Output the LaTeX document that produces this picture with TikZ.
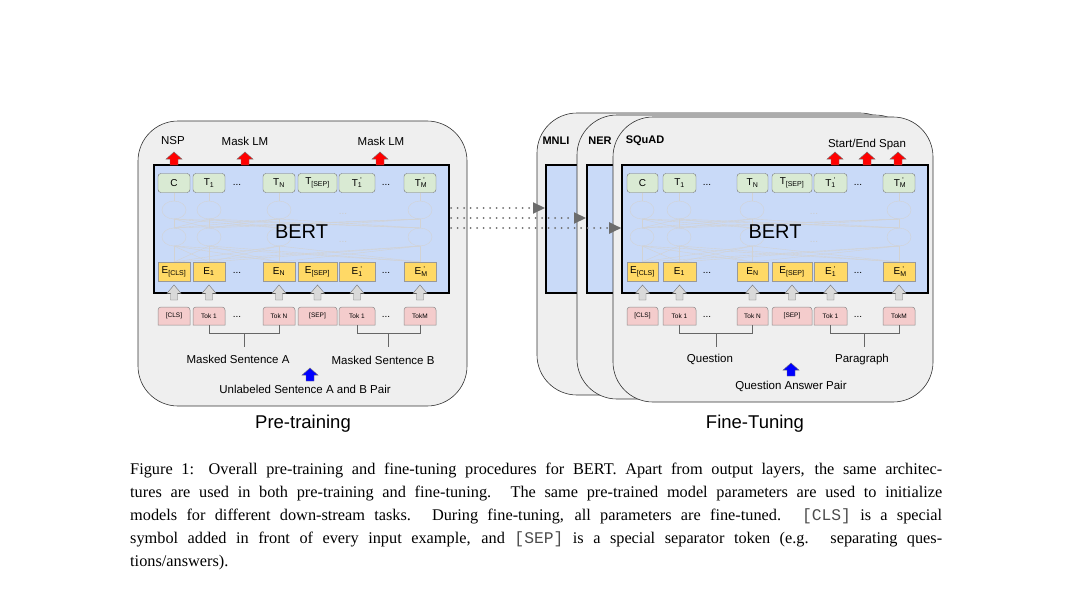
\documentclass[tikz,border=0pt]{standalone}
\usepackage{fontspec}
\setmainfont{Liberation Serif}
\setmonofont{Liberation Mono}
\newfontfamily\arialf{Liberation Sans}
\usetikzlibrary{arrows.meta,calc}
\definecolor{bertblue}{HTML}{C9DAF8}
\definecolor{tgreen}{HTML}{D9EAD3}
\definecolor{eyellow}{HTML}{FFD966}
\definecolor{tpink}{HTML}{F4CCCC}
\definecolor{panelfill}{HTML}{EFEFEF}
\definecolor{arrgray}{HTML}{D9D9D9}
\newcommand\pr[2]{#1\rlap{\textsubscript{#2}}\textsuperscript{\,\,'}}
\newcommand\blockarr[5]{% x ybottom height halfhead color
 \filldraw[fill=#5,draw=black!55,line width=.4pt] ({#1-#4/2},#2) -- ({#1-#4/2},{#2-#3*0.45}) -- ({#1-#4},{#2-#3*0.45}) -- ({#1},{#2-#3}) -- ({#1+#4},{#2-#3*0.45}) -- ({#1+#4/2},{#2-#3*0.45}) -- ({#1+#4/2},#2) -- cycle;}
\tikzset{
 panel/.style={draw=black!80,fill=panelfill,line width=.6pt,rounded corners=40pt},
 bertbox/.style={draw=black,fill=bertblue,line width=1.6pt,minimum height=128pt,inner sep=0},
 net/.style={draw=gray!35,line width=.4pt},
 tbox/.style={draw=black!55,fill=tgreen,rounded corners=3pt,minimum height=19pt,inner sep=0,font=\arialf\fontsize{10}{10}\selectfont},
 ebox/.style={draw=black!40,fill=eyellow,minimum height=19pt,inner sep=0,font=\arialf\fontsize{10}{10}\selectfont},
 tokst/.style={draw=black!45,fill=tpink,line width=.5pt},
 tokt/.style={minimum height=18pt,inner sep=0,font=\arialf\fontsize{6.5}{7}\selectfont},
 dotst/.style={font=\arialf\fontsize{10}{10}\selectfont},
 lbl/.style={font=\arialf\fontsize{11.5}{12}\selectfont,inner sep=0},
 brk/.style={draw=black!60,line width=.6pt},
 dotarr/.style={draw=gray!85!black,line width=2pt,line cap=round,dash pattern=on 0pt off 6.5pt,-{Triangle[length=12pt,width=11pt]}},
}
\newcommand\model[7]{%
 \node[bertbox,minimum width={(#3-#2)*1pt}] (#1bert) at ({(#2+#3)/2},229) {};
 \foreach \c in {#6} {
  \draw[net] (\c,210) ellipse [x radius=12,y radius=9];
  \draw[net] (\c,237) ellipse [x radius=12,y radius=9];
  \draw[net] (\c,193) -- (\c,201);
  \foreach \b in {#6} {\draw[net] (\c,219) -- (\b,228); \draw[net] (\c,262) -- (\b,246);}
 }
 \node[font=\arialf\fontsize{20}{20}\selectfont,inner sep=0] (#1label) at ({(#2+#3)/2},232) {BERT};
 \node[dotst,text=gray!40] (#1nd1) at (#7,214) {...};
 \node[dotst,text=gray!40] (#1nd2) at (#7,242) {...};
 \foreach \xa/\xb/\T/\E/\K/\i in {#4} {
  \node[tbox,minimum width={(\xb-\xa)*1pt}] (#1T\i) at ({(\xa+\xb)/2},183) {\T};
  \node[ebox,minimum width={(\xb-\xa)*1pt}] (#1E\i) at ({(\xa+\xb)/2},271.5) {\E};
  \draw[tokst] (\xa,325) [rounded corners=3pt] -- (\xa,307) -- (\xb,307) [sharp corners] -- (\xb,325) -- cycle;
  \node[tokt,minimum width={(\xb-\xa)*1pt}] (#1K\i) at ({(\xa+\xb)/2},316) {\K};
  \blockarr{(\xa+\xb)/2}{300}{15}{7}{arrgray}
 }
 \foreach \d [count=\n] in {#5} {
  \node[dotst] (#1dt\n) at (\d,185) {...};
  \node[dotst] (#1de\n) at (\d,273) {...};
  \node[dotst] (#1dk\n) at (\d,317) {...};
 }
 \draw[brk] (#1K2.south) -- ++(0,8) -| (#1K3.south);
 \draw[brk] (#1K5.south) -- ++(0,8) -| (#1K6.south);
 \coordinate (#1ma) at ($(#1K2.south)!0.5!(#1K3.south)+(0,8)$);
 \coordinate (#1mb) at ($(#1K5.south)!0.5!(#1K6.south)+(0,8)$);
 \draw[brk] (#1ma) -- ++(0,14);
 \draw[brk] (#1mb) -- ++(0,14);
}
\begin{document}
\begin{tikzpicture}[x=1pt,y=-1pt]
\useasboundingbox (0,0) rectangle (1075,591);
\fill[white] (0,0) rectangle (1075,591);
% left panel
\draw[panel] (138,121) rectangle (467,406);
\model{L}{154}{449}{158/190/{C}/{E\textsubscript{[CLS]}}/{[CLS]}/1, 193/225/{T\textsubscript{1}}/{E\textsubscript{1}}/{Tok 1}/2, 263/295/{T\textsubscript{N}}/{E\textsubscript{N}}/{Tok N}/3, 298/337/{T\textsubscript{[SEP]}}/{E\textsubscript{[SEP]}}/{[SEP]}/4, 339/375/{\pr{T}{1}}/{\pr{E}{1}}/{Tok 1}/5, 404/436/{\pr{T}{M}}/{\pr{E}{M}}/{TokM}/6}{237,386}{174,209,279,420}{343}
\node[lbl] (nsp) at (173,141) {NSP};
\node[lbl] (mlm1) at (245,141) {Mask LM};
\node[lbl] (mlm2) at (381,141) {Mask LM};
\blockarr{174}{165}{13}{8}{red}
\blockarr{245}{165}{13}{8}{red}
\blockarr{380}{165}{13}{8}{red}
\node[lbl] (msa) at (238,359) {Masked Sentence A};
\node[lbl] (msb) at (383,360) {Masked Sentence B};
\blockarr{310}{381}{13}{8}{blue}
\node[lbl] (uns) at (305,389) {Unlabeled Sentence A and B Pair};
\node[font=\arialf\fontsize{18.5}{19}\selectfont,inner sep=0] (pre) at (303,424) {Pre-training};
% right panels
\draw[panel] (537,113) rectangle (900,395);
\node[bertbox,minimum width=80pt,anchor=west] (mnlibox) at (545,229) {};
\node[font=\arialf\bfseries\fontsize{11}{11}\selectfont,inner sep=0] (mnli) at (556,141) {MNLI};
\draw[panel] (577,115) rectangle (915,399);
\node[bertbox,minimum width=80pt,anchor=west] (nerbox) at (586,229) {};
\node[font=\arialf\bfseries\fontsize{11}{11}\selectfont,inner sep=0] (ner) at (600,141) {NER};
\draw[panel] (613,117) rectangle (933,402);
\node[font=\arialf\bfseries\fontsize{11}{11}\selectfont,inner sep=0] (squad) at (645,141) {SQuAD};
\model{R}{622}{928}{627/658/{C}/{E\textsubscript{[CLS]}}/{[CLS]}/1, 663/696/{T\textsubscript{1}}/{E\textsubscript{1}}/{Tok 1}/2, 737/768/{T\textsubscript{N}}/{E\textsubscript{N}}/{Tok N}/3, 772/812/{T\textsubscript{[SEP]}}/{E\textsubscript{[SEP]}}/{[SEP]}/4, 814/847/{\pr{T}{1}}/{\pr{E}{1}}/{Tok 1}/5, 883/915/{\pr{T}{M}}/{\pr{E}{M}}/{TokM}/6}{707,858}{642,679,752,899}{814}
\node[lbl] (span) at (867,145) {Start/End Span};
\blockarr{835}{165}{13}{8}{red}
\blockarr{867}{165}{13}{8}{red}
\blockarr{898}{165}{13}{8}{red}
\node[lbl] (q) at (710,359) {Question};
\node[lbl] (para) at (862,360) {Paragraph};
\blockarr{791}{376}{13}{8}{blue}
\node[lbl] (qap) at (791,386) {Question Answer Pair};
\node[font=\arialf\fontsize{18.5}{19}\selectfont,inner sep=0] (ft) at (755,424) {Fine-Tuning};
% dotted arrows
\coordinate (s1) at (451,208);
\coordinate (s2) at (451,218);
\coordinate (s3) at (451,228);
\draw[dotarr] (s1) -- (s1 -| mnlibox.west);
\draw[dotarr] (s2) -- (s2 -| nerbox.west);
\draw[dotarr] (s3) -- (s3 -| Rbert.west);
% caption
\node[anchor=north west,text width=812pt,align=justify,inner sep=0,font=\fontsize{16.3}{23}\selectfont] (cap) at (130,463) {Figure 1: Overall pre-training and fine-tuning procedures for BERT. Apart from output layers, the same architec-\linebreak tures are used in both pre-training and fine-tuning. The same pre-trained model parameters are used to initialize\linebreak models for different down-stream tasks. During fine-tuning, all parameters are fine-tuned. {\color{black!70}\ttfamily [CLS]} is a special\linebreak symbol added in front of every input example, and {\color{black!70}\ttfamily [SEP]} is a special separator token (e.g. separating ques-\linebreak tions/answers).};
\end{tikzpicture}
\end{document}
